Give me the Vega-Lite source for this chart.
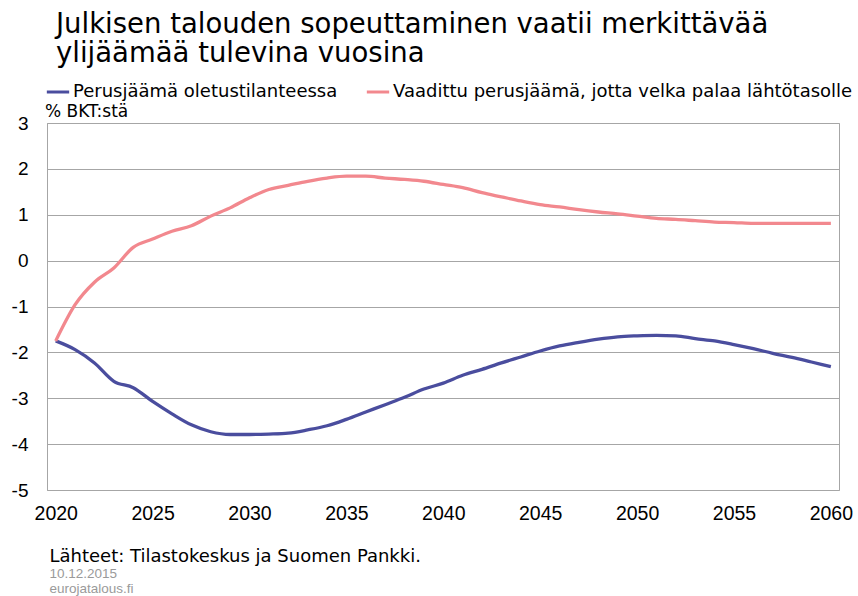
{
  "$schema": "https://vega.github.io/schema/vega-lite/v6.json",
  "width": 792,
  "height": 367,
  "autosize": {"type": "none"},
  "padding": {"left": 47, "top": 123, "right": 19, "bottom": 106},
  "background": "white",
  "config": {
    "font": "Liberation Sans",
    "view": {"stroke": "#a6a6a6", "strokeWidth": 1}
  },
  "title": {
    "text": ["Julkisen talouden sopeuttaminen vaatii merkittävää", "ylijäämää tulevina vuosina"],
    "anchor": "start",
    "frame": "group",
    "fontSize": 27.5,
    "fontWeight": "normal",
    "font": "DejaVu Sans",
    "color": "#000000",
    "lineHeight": 29,
    "dx": 9,
    "offset": 12
  },
  "data": {
    "values": [
      {"year": 2020, "series": "Perusjäämä oletustilanteessa", "value": -1.75},
      {"year": 2021, "series": "Perusjäämä oletustilanteessa", "value": -1.94},
      {"year": 2022, "series": "Perusjäämä oletustilanteessa", "value": -2.23},
      {"year": 2023, "series": "Perusjäämä oletustilanteessa", "value": -2.63},
      {"year": 2024, "series": "Perusjäämä oletustilanteessa", "value": -2.77},
      {"year": 2025, "series": "Perusjäämä oletustilanteessa", "value": -3.07},
      {"year": 2026, "series": "Perusjäämä oletustilanteessa", "value": -3.34},
      {"year": 2027, "series": "Perusjäämä oletustilanteessa", "value": -3.58},
      {"year": 2028, "series": "Perusjäämä oletustilanteessa", "value": -3.73},
      {"year": 2029, "series": "Perusjäämä oletustilanteessa", "value": -3.79},
      {"year": 2030, "series": "Perusjäämä oletustilanteessa", "value": -3.79},
      {"year": 2031, "series": "Perusjäämä oletustilanteessa", "value": -3.78},
      {"year": 2032, "series": "Perusjäämä oletustilanteessa", "value": -3.76},
      {"year": 2033, "series": "Perusjäämä oletustilanteessa", "value": -3.69},
      {"year": 2034, "series": "Perusjäämä oletustilanteessa", "value": -3.60},
      {"year": 2035, "series": "Perusjäämä oletustilanteessa", "value": -3.46},
      {"year": 2036, "series": "Perusjäämä oletustilanteessa", "value": -3.30},
      {"year": 2037, "series": "Perusjäämä oletustilanteessa", "value": -3.14},
      {"year": 2038, "series": "Perusjäämä oletustilanteessa", "value": -2.98},
      {"year": 2039, "series": "Perusjäämä oletustilanteessa", "value": -2.80},
      {"year": 2040, "series": "Perusjäämä oletustilanteessa", "value": -2.67},
      {"year": 2041, "series": "Perusjäämä oletustilanteessa", "value": -2.50},
      {"year": 2042, "series": "Perusjäämä oletustilanteessa", "value": -2.37},
      {"year": 2043, "series": "Perusjäämä oletustilanteessa", "value": -2.23},
      {"year": 2044, "series": "Perusjäämä oletustilanteessa", "value": -2.10},
      {"year": 2045, "series": "Perusjäämä oletustilanteessa", "value": -1.97},
      {"year": 2046, "series": "Perusjäämä oletustilanteessa", "value": -1.86},
      {"year": 2047, "series": "Perusjäämä oletustilanteessa", "value": -1.78},
      {"year": 2048, "series": "Perusjäämä oletustilanteessa", "value": -1.71},
      {"year": 2049, "series": "Perusjäämä oletustilanteessa", "value": -1.66},
      {"year": 2050, "series": "Perusjäämä oletustilanteessa", "value": -1.64},
      {"year": 2051, "series": "Perusjäämä oletustilanteessa", "value": -1.63},
      {"year": 2052, "series": "Perusjäämä oletustilanteessa", "value": -1.64},
      {"year": 2053, "series": "Perusjäämä oletustilanteessa", "value": -1.70},
      {"year": 2054, "series": "Perusjäämä oletustilanteessa", "value": -1.75},
      {"year": 2055, "series": "Perusjäämä oletustilanteessa", "value": -1.83},
      {"year": 2056, "series": "Perusjäämä oletustilanteessa", "value": -1.92},
      {"year": 2057, "series": "Perusjäämä oletustilanteessa", "value": -2.02},
      {"year": 2058, "series": "Perusjäämä oletustilanteessa", "value": -2.11},
      {"year": 2059, "series": "Perusjäämä oletustilanteessa", "value": -2.21},
      {"year": 2060, "series": "Perusjäämä oletustilanteessa", "value": -2.31},
      {"year": 2020, "series": "Vaadittu perusjäämä, jotta velka palaa lähtötasolle", "value": -1.75},
      {"year": 2021, "series": "Vaadittu perusjäämä, jotta velka palaa lähtötasolle", "value": -0.96},
      {"year": 2022, "series": "Vaadittu perusjäämä, jotta velka palaa lähtötasolle", "value": -0.47},
      {"year": 2023, "series": "Vaadittu perusjäämä, jotta velka palaa lähtötasolle", "value": -0.16},
      {"year": 2024, "series": "Vaadittu perusjäämä, jotta velka palaa lähtötasolle", "value": 0.29},
      {"year": 2025, "series": "Vaadittu perusjäämä, jotta velka palaa lähtötasolle", "value": 0.47},
      {"year": 2026, "series": "Vaadittu perusjäämä, jotta velka palaa lähtötasolle", "value": 0.64},
      {"year": 2027, "series": "Vaadittu perusjäämä, jotta velka palaa lähtötasolle", "value": 0.76},
      {"year": 2028, "series": "Vaadittu perusjäämä, jotta velka palaa lähtötasolle", "value": 0.97},
      {"year": 2029, "series": "Vaadittu perusjäämä, jotta velka palaa lähtötasolle", "value": 1.15},
      {"year": 2030, "series": "Vaadittu perusjäämä, jotta velka palaa lähtötasolle", "value": 1.37},
      {"year": 2031, "series": "Vaadittu perusjäämä, jotta velka palaa lähtötasolle", "value": 1.55},
      {"year": 2032, "series": "Vaadittu perusjäämä, jotta velka palaa lähtötasolle", "value": 1.64},
      {"year": 2033, "series": "Vaadittu perusjäämä, jotta velka palaa lähtötasolle", "value": 1.73},
      {"year": 2034, "series": "Vaadittu perusjäämä, jotta velka palaa lähtötasolle", "value": 1.80},
      {"year": 2035, "series": "Vaadittu perusjäämä, jotta velka palaa lähtötasolle", "value": 1.84},
      {"year": 2036, "series": "Vaadittu perusjäämä, jotta velka palaa lähtötasolle", "value": 1.84},
      {"year": 2037, "series": "Vaadittu perusjäämä, jotta velka palaa lähtötasolle", "value": 1.80},
      {"year": 2038, "series": "Vaadittu perusjäämä, jotta velka palaa lähtötasolle", "value": 1.77},
      {"year": 2039, "series": "Vaadittu perusjäämä, jotta velka palaa lähtötasolle", "value": 1.73},
      {"year": 2040, "series": "Vaadittu perusjäämä, jotta velka palaa lähtötasolle", "value": 1.66},
      {"year": 2041, "series": "Vaadittu perusjäämä, jotta velka palaa lähtötasolle", "value": 1.59},
      {"year": 2042, "series": "Vaadittu perusjäämä, jotta velka palaa lähtötasolle", "value": 1.48},
      {"year": 2043, "series": "Vaadittu perusjäämä, jotta velka palaa lähtötasolle", "value": 1.39},
      {"year": 2044, "series": "Vaadittu perusjäämä, jotta velka palaa lähtötasolle", "value": 1.30},
      {"year": 2045, "series": "Vaadittu perusjäämä, jotta velka palaa lähtötasolle", "value": 1.22},
      {"year": 2046, "series": "Vaadittu perusjäämä, jotta velka palaa lähtötasolle", "value": 1.17},
      {"year": 2047, "series": "Vaadittu perusjäämä, jotta velka palaa lähtötasolle", "value": 1.11},
      {"year": 2048, "series": "Vaadittu perusjäämä, jotta velka palaa lähtötasolle", "value": 1.06},
      {"year": 2049, "series": "Vaadittu perusjäämä, jotta velka palaa lähtötasolle", "value": 1.02},
      {"year": 2050, "series": "Vaadittu perusjäämä, jotta velka palaa lähtötasolle", "value": 0.97},
      {"year": 2051, "series": "Vaadittu perusjäämä, jotta velka palaa lähtötasolle", "value": 0.92},
      {"year": 2052, "series": "Vaadittu perusjäämä, jotta velka palaa lähtötasolle", "value": 0.90},
      {"year": 2053, "series": "Vaadittu perusjäämä, jotta velka palaa lähtötasolle", "value": 0.87},
      {"year": 2054, "series": "Vaadittu perusjäämä, jotta velka palaa lähtötasolle", "value": 0.84},
      {"year": 2055, "series": "Vaadittu perusjäämä, jotta velka palaa lähtötasolle", "value": 0.83},
      {"year": 2056, "series": "Vaadittu perusjäämä, jotta velka palaa lähtötasolle", "value": 0.81},
      {"year": 2057, "series": "Vaadittu perusjäämä, jotta velka palaa lähtötasolle", "value": 0.81},
      {"year": 2058, "series": "Vaadittu perusjäämä, jotta velka palaa lähtötasolle", "value": 0.81},
      {"year": 2059, "series": "Vaadittu perusjäämä, jotta velka palaa lähtötasolle", "value": 0.81},
      {"year": 2060, "series": "Vaadittu perusjäämä, jotta velka palaa lähtötasolle", "value": 0.81}
    ]
  },
  "mark": {"type": "line", "strokeWidth": 3.3, "interpolate": "monotone"},
  "encoding": {
    "x": {
      "field": "year",
      "type": "quantitative",
      "scale": {"domain": [2019.55, 2060.42], "nice": false, "zero": false},
      "axis": {
        "values": [2020, 2025, 2030, 2035, 2040, 2045, 2050, 2055, 2060],
        "format": "d",
        "grid": false,
        "ticks": false,
        "domain": false,
        "labelFontSize": 19.5,
        "labelFont": "Liberation Sans",
        "labelColor": "#000000",
        "labelPadding": 14,
        "labelFlush": false,
        "title": "Lähteet: Tilastokeskus ja Suomen Pankki.",
        "titleFontSize": 18,
        "titleFontWeight": "normal",
        "titleFont": "DejaVu Sans",
        "titleColor": "#000000",
        "titleAnchor": "start",
        "titleAlign": "left",
        "titleBaseline": "alphabetic",
        "titleX": 2,
        "titleY": 71
      }
    },
    "y": {
      "field": "value",
      "type": "quantitative",
      "scale": {"domain": [-5, 3], "nice": false, "zero": false},
      "axis": {
        "values": [-5, -4, -3, -2, -1, 0, 1, 2, 3],
        "labelExpr": "replace(datum.label, '\u2212', '-')",
        "grid": true,
        "gridColor": "#a6a6a6",
        "gridWidth": 1,
        "domain": true,
        "domainColor": "#a6a6a6",
        "ticks": false,
        "labelFontSize": 19,
        "labelFont": "Liberation Sans",
        "labelColor": "#000000",
        "labelPadding": 19,
        "title": ["10.12.2015", "eurojatalous.fi"],
        "titleAngle": 0,
        "titleFontSize": 13.5,
        "titleFontWeight": "normal",
        "titleFont": "Liberation Sans",
        "titleColor": "#9a9a9a",
        "titleLineHeight": 15,
        "titleAlign": "left",
        "titleBaseline": "alphabetic",
        "titleX": 2,
        "titleY": 454
      }
    },
    "color": {
      "field": "series",
      "type": "nominal",
      "scale": {
        "domain": ["Perusjäämä oletustilanteessa", "Vaadittu perusjäämä, jotta velka palaa lähtötasolle"],
        "range": ["#4a4d9e", "#f2888e"]
      },
      "legend": {
        "title": "% BKT:stä",
        "titleOrient": "bottom",
        "titleFontSize": 17,
        "titleFont": "DejaVu Sans",
        "titleFontWeight": "normal",
        "titleColor": "#000000",
        "titlePadding": 3,
        "titleAnchor": "start",
        "orient": "none",
        "legendX": -2,
        "legendY": -44,
        "direction": "horizontal",
        "symbolType": "stroke",
        "symbolSize": 500,
        "symbolStrokeWidth": 3,
        "labelFontSize": 18,
        "labelFont": "DejaVu Sans",
        "labelColor": "#000000",
        "labelLimit": 600,
        "labelOffset": 2,
        "columnPadding": 22
      }
    }
  }
}
